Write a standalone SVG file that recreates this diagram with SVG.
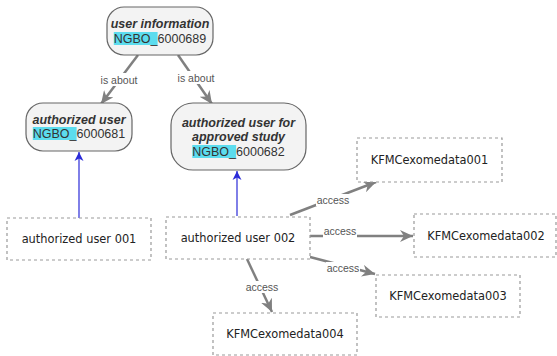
<svg xmlns="http://www.w3.org/2000/svg" width="557" height="356" viewBox="0 0 557 356">
<style>
.rn{fill:#f3f3f3;stroke:#666;stroke-width:1.2}
.dn{fill:#fff;stroke:#999;stroke-width:1.2;stroke-dasharray:3,3}
.t1{font-family:"Liberation Sans",Arial,sans-serif;font-size:12.5px;font-weight:bold;font-style:italic;fill:#333;text-anchor:middle}
.t2{font-family:"Liberation Sans",Arial,sans-serif;font-size:12.5px;fill:#333;text-anchor:middle}
.t3{font-family:"DejaVu Sans",Verdana,sans-serif;font-size:11.4px;fill:#222;text-anchor:middle}
.hl{fill:#5cdcee}
.e{stroke:#808080;stroke-width:2.5;fill:none;marker-end:url(#ag)}
.b{stroke:#2a2ad8;stroke-width:1.2;fill:none;marker-end:url(#ab)}
.lb{fill:#fff}
.lt{font-family:"Liberation Sans",Arial,sans-serif;font-size:10.5px;fill:#555;text-anchor:middle}
</style>
<defs>
<marker id="ag" markerUnits="userSpaceOnUse" markerWidth="14" markerHeight="12" refX="13" refY="6" orient="auto"><path d="M0,0 L13,6 L0,12 L4,6 z" fill="#808080"/></marker>
<marker id="ab" markerUnits="userSpaceOnUse" markerWidth="10" markerHeight="10" refX="9" refY="5" orient="auto"><path d="M0,0.5 L9,5 L0,9.5 L2.5,5 z" fill="#2a2ad8"/></marker>
</defs>
<rect width="557" height="356" fill="#fff"/>
<g id="connectors">
<path class="e" d="M138,55 L101,104"/>
<path class="e" d="M178,55 L212,104"/>
<path class="b" d="M79,218 L79,152"/>
<path class="b" d="M237,216 L237,171"/>
<path class="e" d="M290,215 L376,182"/>
<path class="e" d="M310,236 L413,236"/>
<path class="e" d="M310,257 L375,274"/>
<path class="e" d="M247,259 L272,312"/>
<rect class="lb" x="99" y="73" width="40" height="13"/>
<text class="lt" x="119" y="83.5">is about</text>
<rect class="lb" x="176" y="71" width="40" height="13"/>
<text class="lt" x="196" y="81.5">is about</text>
<rect class="lb" x="316" y="194" width="34" height="12"/>
<text class="lt" x="333" y="203.5">access</text>
<rect class="lb" x="323" y="225" width="34" height="13"/>
<text class="lt" x="340" y="235">access</text>
<rect class="lb" x="326" y="262" width="34" height="12"/>
<text class="lt" x="343" y="271.5">access</text>
<rect class="lb" x="245" y="281" width="34" height="12"/>
<text class="lt" x="262" y="290.5">access</text>
</g>
<g id="user-information">
<rect class="rn" x="107" y="7" width="106" height="48" rx="17"/>
<text class="t1" x="160" y="27.5">user information</text>
<rect class="hl" x="113.8" y="32" width="43.8" height="13"/>
<text class="t2" x="160" y="42.5">NGBO_6000689</text>
</g>
<g id="authorized-user">
<rect class="rn" x="26" y="103" width="106" height="48" rx="17"/>
<text class="t1" x="79" y="123.5">authorized user</text>
<rect class="hl" x="32.8" y="127" width="43.8" height="13"/>
<text class="t2" x="79" y="137.5">NGBO_6000681</text>
</g>
<g id="authorized-user-approved-study">
<rect class="rn" x="171" y="103" width="135" height="67" rx="22"/>
<text class="t1" x="238.5" y="126.5">authorized user for</text>
<text class="t1" x="238.5" y="141">approved study</text>
<rect class="hl" x="192.3" y="145" width="43.8" height="13"/>
<text class="t2" x="238.5" y="155.5">NGBO_6000682</text>
</g>
<g id="authorized-user-001">
<rect class="dn" x="7" y="218" width="144" height="42"/>
<text class="t3" x="79" y="243">authorized user 001</text>
</g>
<g id="authorized-user-002">
<rect class="dn" x="166" y="217" width="144" height="42"/>
<text class="t3" x="238" y="242">authorized user 002</text>
</g>
<g id="kfm001">
<rect class="dn" x="357" y="138" width="145" height="44"/>
<text class="t3" x="429.5" y="164">KFMCexomedata001</text>
</g>
<g id="kfm002">
<rect class="dn" x="414" y="214" width="142" height="43"/>
<text class="t3" x="486" y="239.5">KFMCexomedata002</text>
</g>
<g id="kfm003">
<rect class="dn" x="376" y="275" width="144" height="42"/>
<text class="t3" x="448" y="300">KFMCexomedata003</text>
</g>
<g id="kfm004">
<rect class="dn" x="213" y="313" width="144" height="42"/>
<text class="t3" x="285" y="337.5">KFMCexomedata004</text>
</g>
</svg>
